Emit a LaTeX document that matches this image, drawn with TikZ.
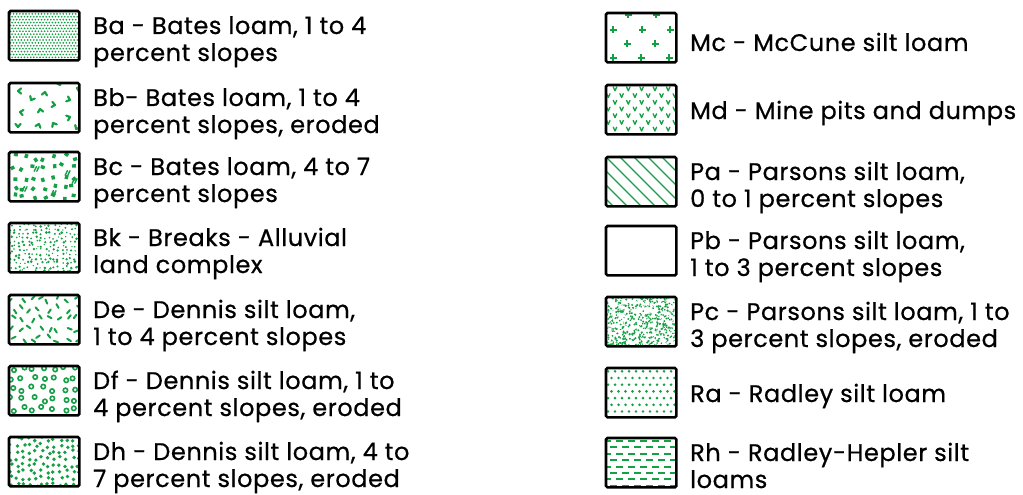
\documentclass[tikz,border=0pt]{standalone}
\usepackage{fontspec}
\setmainfont{Poppins}[FakeBold=0.6, LetterSpace=2.5]
\definecolor{soilgreen}{RGB}{22,160,70}
\tikzset{
  frame/.style={draw=black, line width=2.6pt, rounded corners=1.5pt},
  boxslot/.style={minimum width=70pt, minimum height=49pt, inner sep=0pt, anchor=north west},
  legendtext/.style={anchor=base west, inner sep=0pt, font=\fontsize{24}{28}\selectfont},
  ink/.style={soilgreen, line width=#1, line cap=round, line join=round},
  ink/.default=1.4pt,
}
% a legend entry: name, x, top, first line, second line
\newcommand\soilentry[5]{%
  \node[boxslot] (#1) at (#2,#3) {};
  \node[legendtext] (#1-a) at ([xshift=84pt,yshift=-23pt]#1.north west) {#4};
  \node[legendtext] (#1-b) at ([xshift=84pt,yshift=-50pt]#1.north west) {#5};
}
\newcommand\soilsingle[5]{%
  \node[boxslot] (#1) at (#2,#3) {};
  \node[legendtext] (#1-a) at ([xshift=84pt,yshift=-#5pt]#1.north west) {#4};
}
% local hatching area of a box, y running downwards
\newenvironment{fillin}[1]{\begin{scope}[shift={(#1.north west)}]\clip (0,0) rectangle (70,49);}{\end{scope}}
\newcommand\frameit[1]{\draw[frame] (#1.north west) rectangle (#1.south east);}
\begin{document}
\begin{tikzpicture}[x=1pt,y=-1pt]
\useasboundingbox (0,0) rectangle (1023,495);
\pgfmathsetseed{4711}

% ---------------- left column ----------------
\soilentry{ba}{9}{11}{Ba - Bates loam, 1 to 4}{percent slopes}
\soilentry{bb}{9}{83}{Bb- Bates loam, 1 to 4}{percent slopes, eroded}
\soilentry{bc}{9}{152}{Bc - Bates loam, 4 to 7}{percent slopes}
\soilentry{bk}{9}{223}{Bk - Breaks - Alluvial}{land complex}
\soilentry{de}{9}{295}{De - Dennis silt loam,}{1 to 4 percent slopes}
\soilentry{df}{9}{366}{Df - Dennis silt loam, 1 to}{4 percent slopes, eroded}
\soilentry{dh}{9}{437}{Dh - Dennis silt loam, 4 to}{7 percent slopes, eroded}

% ---------------- right column ----------------
\soilsingle{mc}{606}{13}{Mc - McCune silt loam}{38}
\soilsingle{md}{606}{85}{Md - Mine pits and dumps}{34}
\soilentry{pa}{606}{157}{Pa - Parsons silt loam,}{0 to 1 percent slopes}
\soilentry{pb}{606}{226}{Pb - Parsons silt loam,}{1 to 3 percent slopes}
\soilentry{pc}{606}{297}{Pc - Parsons silt loam, 1 to}{3 percent slopes, eroded}
\soilsingle{ra}{606}{368}{Ra - Radley silt loam}{34}
\soilentry{rh}{606}{438}{Rh - Radley-Hepler silt}{loams}

% Ba: fine halftone stipple
\begin{fillin}{ba}
\foreach \j in {0,...,17}{\foreach \i in {0,...,23}{
  \fill[soilgreen] ({\i*3.1+mod(\j,2)*1.55},{\j*2.9}) circle (0.95);}}
\end{fillin}

% Bb: scattered chevrons
\begin{fillin}{bb}
\foreach \u/\v/\a in {9/8/0,36/9/100,51/2/250,22/17/300,61/17/200,11/29/10,31/26/80,46/22/190,61/34/160,30/41/110,44/40/60,9/44/270,68/5/20,67/46/300}{
  \draw[ink=2.2pt] ([shift={(\a+40:4)}]\u,\v) -- (\u,\v) -- ([shift={(\a-40:4)}]\u,\v);}
\end{fillin}

% Bc: blobs and paired dashes
\begin{fillin}{bc}
\foreach \i in {0,...,6}{\foreach \j in {0,...,4}{
  \pgfmathsetmacro\pu{\i*10+5+(rnd-0.5)*6}
  \pgfmathsetmacro\pv{\j*10+5+(rnd-0.5)*6}
  \pgfmathsetmacro\pa{rnd*180}
  \fill[soilgreen, rotate around={\pa:(\pu,\pv)}] (\pu-2,\pv-1.7) rectangle (\pu+2,\pv+1.7);}}
\foreach \u/\v in {27/17,58/21,65/29,44/41,15/37}{
  \draw[ink=1.4pt] (\u-1.8,\v+2.3) -- (\u+0.4,\v-2.3) (\u+0.8,\v+2.3) -- (\u+3,\v-2.3);}
\end{fillin}

% Bk: fine irregular dots
\begin{fillin}{bk}
\foreach \i in {0,...,16}{\foreach \j in {0,...,11}{
  \fill[soilgreen] ({\i*4.3+2+(rnd-0.5)*3},{\j*4.2+2+(rnd-0.5)*3}) circle ({0.6+rnd*0.9});}}
\end{fillin}

% De: short slanted dashes
\begin{fillin}{de}
\foreach \i in {0,...,7}{\foreach \j in {0,...,4}{
  \pgfmathsetmacro\pu{\i*9+4+(rnd-0.5)*6}
  \pgfmathsetmacro\pv{\j*10+4+(rnd-0.5)*6}
  \pgfmathsetmacro\pa{45+90*int(2*rnd)+(rnd-0.5)*50}
  \draw[ink=2pt] ([shift={(\pa:2.2)}]\pu,\pv) -- ([shift={(\pa+180:2.2)}]\pu,\pv);}}
\end{fillin}

% Df: small rings
\begin{fillin}{df}
\foreach \i in {0,...,6}{\foreach \j in {0,...,4}{
  \draw[soilgreen, line width=1.6pt] ({\i*10.5+3+(rnd-0.5)*5},{\j*10+3+(rnd-0.5)*5}) circle (2.2);}}
\end{fillin}

% Dh: dense round dots
\begin{fillin}{dh}
\foreach \i in {0,...,11}{\foreach \j in {0,...,7}{
  \fill[soilgreen] ({\i*6.2+2+(rnd-0.5)*4},{\j*6.5+2+(rnd-0.5)*4}) circle (1.9);}}
\end{fillin}

% Mc: staggered plus signs
\begin{fillin}{mc}
\foreach \u/\v in {22/2,50/2,7/17,36/17,64/17,21/31,49/31,7/45,35/45,63/45}{
  \draw[soilgreen, line width=2.2pt] (\u-3.5,\v) -- (\u+3.5,\v) (\u,\v-3.5) -- (\u,\v+3.5);}
\end{fillin}

% Md: small v marks on a diamond lattice
\begin{fillin}{md}
\foreach \k in {0,...,6}{\foreach \i in {0,...,5}{
  \pgfmathsetmacro\pu{mod(\k,2)==0 ? 9+13.3*\i : 2.3+13.3*\i}
  \pgfmathsetmacro\pv{4+6.7*\k}
  \draw[ink=1.3pt] (\pu-1.7,\pv-2) -- (\pu,\pv+1.8) -- (\pu+1.7,\pv-2);}}
\end{fillin}

% Pa: diagonal ruling
\begin{fillin}{pa}
\foreach \k in {-56,-42,...,70}{\draw[soilgreen, line width=1.4pt] (\k,0) -- (\k+49,49);}
\end{fillin}

% Pc: dense specks
\begin{fillin}{pc}
\foreach \k in {1,...,520}{
  \pgfmathsetmacro\pu{rnd*72-1}
  \pgfmathsetmacro\pv{rnd*51-1}
  \draw[soilgreen, line width=1.5pt] (\pu,\pv) -- ++({(rnd-0.5)*3},{(rnd-0.5)*3});}
\end{fillin}

% Ra: staggered dot grid
\begin{fillin}{ra}
\foreach \j in {0,...,7}{\foreach \i in {0,...,10}{
  \fill[soilgreen] ({2+7*\i+mod(\j,2)*3.5},{3.3+6.7*\j}) circle (1.45);}}
\end{fillin}

% Rh: rows of horizontal dashes
\begin{fillin}{rh}
\foreach \j in {0,...,7}{\foreach \i in {0,...,6}{
  \draw[soilgreen, line width=1.9pt] ({mod(\j,2)*6-2+12*\i},{3+6.4*\j}) -- ++(7,0);}}
\end{fillin}

% box outlines on top of the fills
\foreach \b in {ba,bb,bc,bk,de,df,dh,mc,md,pa,pb,pc,ra,rh}{\frameit{\b}}
\end{tikzpicture}
\end{document}
